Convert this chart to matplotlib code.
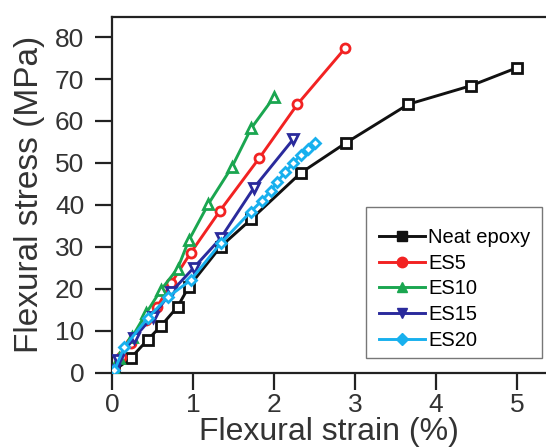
import matplotlib.pyplot as plt
from matplotlib.lines import Line2D
from matplotlib.patches import Rectangle

plt.rcParams['font.family'] = ['Liberation Sans', 'DejaVu Sans']

# strain (%) / stress (MPa)
neat_x = [0.03, 0.23, 0.44, 0.60, 0.81, 0.95, 1.34, 1.72, 2.33, 2.89, 3.66, 4.43, 5.00]
neat_y = [0.5, 3.4, 7.8, 11.0, 15.7, 20.5, 30.0, 36.6, 47.6, 54.8, 64.0, 68.4, 72.7]

es5_x = [0.03, 0.11, 0.23, 0.42, 0.56, 0.73, 0.97, 1.33, 1.82, 2.29, 2.88]
es5_y = [0.8, 3.7, 7.0, 12.5, 15.7, 21.3, 28.5, 38.5, 51.2, 64.0, 77.4]

es10_x = [0.03, 0.09, 0.25, 0.42, 0.60, 0.81, 0.95, 1.19, 1.48, 1.72, 2.00]
es10_y = [0.8, 3.4, 8.5, 14.1, 19.6, 24.8, 31.6, 40.2, 49.0, 58.3, 65.7]

es15_x = [0.03, 0.07, 0.27, 0.50, 0.73, 1.01, 1.34, 1.75, 2.24]
es15_y = [0.5, 3.0, 8.2, 13.3, 19.2, 25.0, 32.0, 44.0, 55.7]

es20_x = [0.03, 0.15, 0.44, 0.69, 0.97, 1.34, 1.71, 1.85, 1.96, 2.04, 2.14, 2.24, 2.33, 2.42, 2.51]
es20_y = [0.5, 6.0, 13.0, 18.0, 22.0, 30.8, 38.3, 41.0, 43.3, 45.5, 47.8, 50.0, 52.0, 53.3, 54.7]

series = [
    ("Neat epoxy", neat_x, neat_y, "#111111", "s"),
    ("ES5", es5_x, es5_y, "#f22222", "o"),
    ("ES10", es10_x, es10_y, "#1aa650", "^"),
    ("ES15", es15_x, es15_y, "#2a2a9c", "v"),
    ("ES20", es20_x, es20_y, "#18b0ee", "D"),
]

W, H = 546, 448
fig = plt.figure(figsize=(W / 100, H / 100), dpi=100)
ax = fig.add_axes([112 / W, 75.5 / H, 1 - 112 / W, 355.5 / H])

handles = []
for name, xs, ys, col, mk in series:
    ms = 5.5 if mk == "D" else 6.5
    ax.plot(xs, ys, color=col, lw=2.1, marker=mk, ms=ms, mfc="white",
            mec=col, mew=2.0, zorder=3)
    handles.append(Line2D([], [], color=col, lw=2.1, marker=mk, ms=ms + 1,
                          mfc=col, mec=col, label=name))

ax.set_xlim(0, (W - 112) / 81.0)
ax.set_ylim(0, 84.8)
ax.set_xticks([0, 1, 2, 3, 4, 5])
ax.set_yticks(range(0, 81, 10))
ax.spines['right'].set_visible(False)
for s in ['left', 'top', 'bottom']:
    ax.spines[s].set_linewidth(1.6)
    ax.spines[s].set_color("#222222")
ax.tick_params(direction='out', length=12, width=1.6, labelsize=19,
               colors="#222222", labelcolor="#333333")
ax.tick_params(axis='y', pad=8)
ax.tick_params(axis='x', pad=3)

ax.set_xlabel("Flexural strain (%)", fontsize=23, labelpad=0, color="#333333")
ax.set_ylabel("Flexural stress (MPa)", fontsize=24, labelpad=7, color="#333333")

# legend box drawn separately so the padding matches the original
ax.add_patch(Rectangle((365.5 / W, 1 - 358 / H), 176 / W, 150.5 / H,
                       transform=fig.transFigure, clip_on=False,
                       facecolor="white", edgecolor="#777777",
                       lw=1.0, zorder=4))
leg = ax.legend(handles=handles, loc='upper left', fontsize=14.5,
                bbox_to_anchor=(379 / W, 1 - 228 / H),
                bbox_transform=fig.transFigure, frameon=False,
                handlelength=2.3, handletextpad=0.15,
                labelspacing=0.33, borderpad=0, borderaxespad=0)
leg.set_zorder(5)

fig.savefig("out.png", dpi=100)
